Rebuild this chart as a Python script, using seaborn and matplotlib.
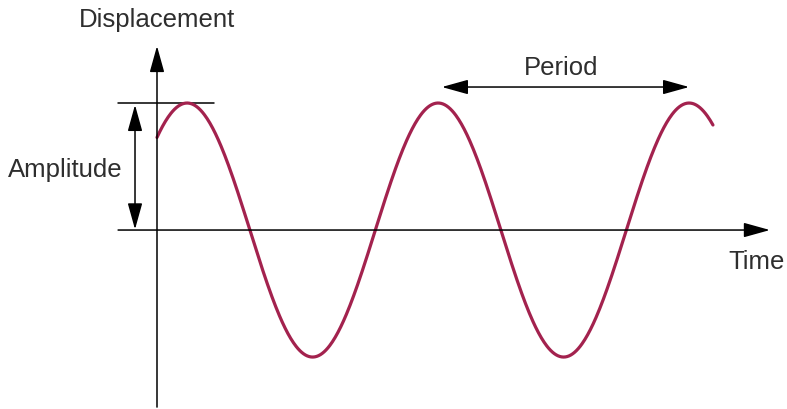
import numpy as np
import pandas as pd
import matplotlib
matplotlib.use("Agg")
import matplotlib.pyplot as plt
import seaborn as sns

# ---- data (wave parameters) ----
amplitude = 1.0          # displacement units
period = 1.0             # time units
peak_time = 0.12         # time of first crest
t_start = 0.0
t_end = 2.215
labels = ["Displacement", "Time", "Amplitude", "Period"]

t = np.linspace(t_start, t_end, 600)
wave = pd.DataFrame({
    "Time": t,
    "Displacement": amplitude * np.cos(2 * np.pi * (t - peak_time) / period),
})

sns.set_style("white")
plt.rcParams["font.family"] = ["Liberation Sans", "DejaVu Sans"]

fig = plt.figure(figsize=(7.87, 4.10), dpi=100)
ax = fig.add_axes([0, 0, 1, 1])

curve_color = "#A3224E"
text_color = "#2e2e2e"
lw_axis = 1.1

sns.lineplot(data=wave, x="Time", y="Displacement", ax=ax,
             color=curve_color, linewidth=2.3, zorder=3)

ax.set_xlim(-0.6255, 2.51)
ax.set_ylim(-1.409, 1.819)
ax.axis("off")

head = "-|>,head_length=0.9,head_width=0.25"
dhead = "<|-|>,head_length=0.9,head_width=0.25"

# vertical axis
ax.annotate("", xy=(0, 1.449), xytext=(0, -1.394),
            arrowprops=dict(arrowstyle=head, color="black", lw=lw_axis,
                            shrinkA=0, shrinkB=0, mutation_scale=18))
# horizontal axis
ax.annotate("", xy=(2.442, 0), xytext=(-0.155, 0),
            arrowprops=dict(arrowstyle=head, color="black", lw=lw_axis,
                            shrinkA=0, shrinkB=0, mutation_scale=18))
# crest reference line
ax.plot([-0.155, 0.227], [amplitude, amplitude], color="black", lw=lw_axis)
# amplitude arrow
ax.annotate("", xy=(-0.0876, amplitude * 0.985), xytext=(-0.0876, 0.005),
            arrowprops=dict(arrowstyle=dhead, color="black", lw=lw_axis,
                            shrinkA=0, shrinkB=0, mutation_scale=18))
# period arrow
ax.annotate("", xy=(peak_time + 2 * period, 1.126),
            xytext=(peak_time + period + 0.015, 1.126),
            arrowprops=dict(arrowstyle=dhead, color="black", lw=lw_axis,
                            shrinkA=0, shrinkB=0, mutation_scale=18))

fs = 18.5
ax.text(0, 1.661, labels[0], ha="center", va="center", fontsize=fs, color=text_color)
ax.text(2.39, -0.244, labels[1], ha="center", va="center", fontsize=fs, color=text_color)
ax.text(-0.367, 0.48, labels[2], ha="center", va="center", fontsize=fs, color=text_color)
ax.text(1.61, 1.283, labels[3], ha="center", va="center", fontsize=fs, color=text_color)

fig.savefig("out.png", dpi=100)
